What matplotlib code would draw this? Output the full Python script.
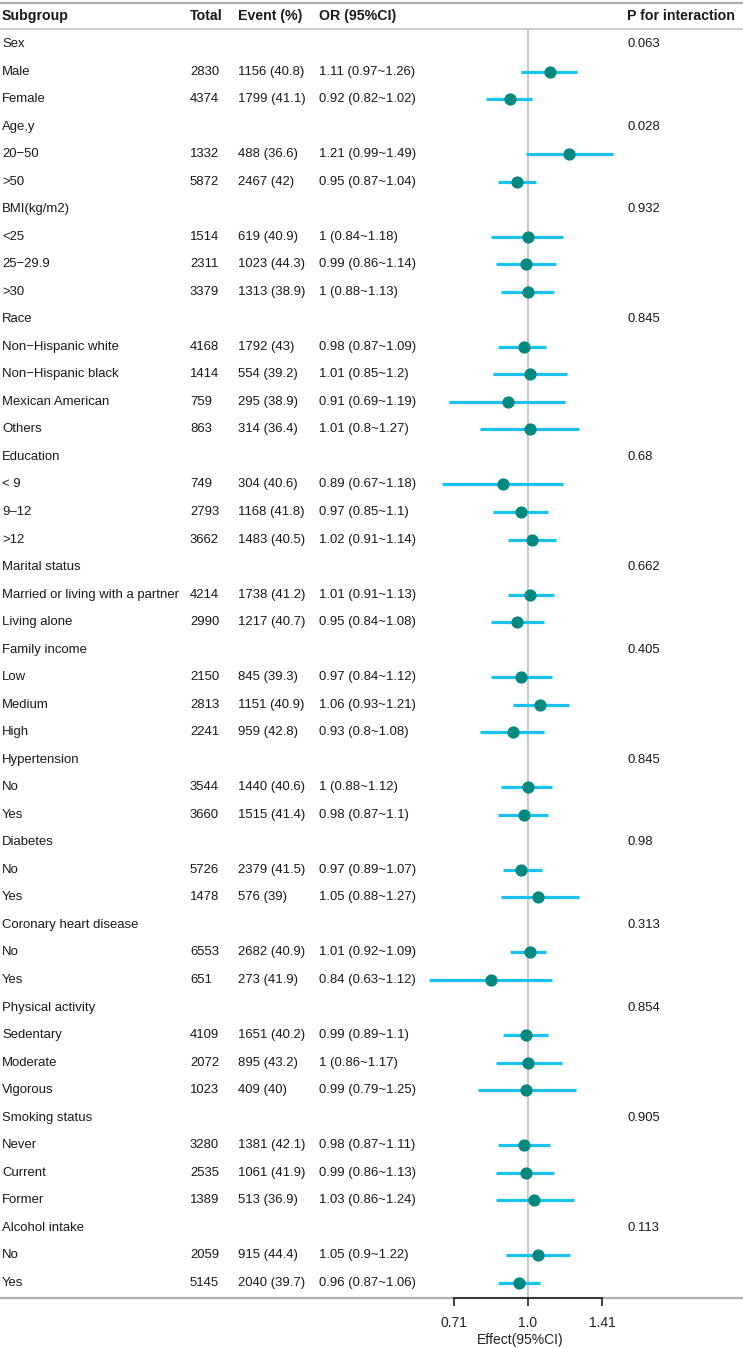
import numpy as np
import matplotlib.pyplot as plt
from matplotlib.ticker import FixedLocator, NullLocator

plt.rcParams['font.family'] = ['Liberation Sans', 'DejaVu Sans']

# ---- data (header rows have None for the numeric columns) ----
labels = ['Sex', 'Male', 'Female',
          'Age,y', '20\u221250', '>50',
          'BMI(kg/m2)', '<25', '25\u221229.9', '>30',
          'Race', 'Non\u2212Hispanic white', 'Non\u2212Hispanic black', 'Mexican American', 'Others',
          'Education', '< 9', '9\u201312', '>12',
          'Marital status', 'Married or living with a partner', 'Living alone',
          'Family income', 'Low', 'Medium', 'High',
          'Hypertension', 'No', 'Yes',
          'Diabetes', 'No', 'Yes',
          'Coronary heart disease', 'No', 'Yes',
          'Physical activity', 'Sedentary', 'Moderate', 'Vigorous',
          'Smoking status', 'Never', 'Current', 'Former',
          'Alcohol intake', 'No', 'Yes']
N = None
totals = [N, 2830, 4374, N, 1332, 5872, N, 1514, 2311, 3379,
          N, 4168, 1414, 759, 863, N, 749, 2793, 3662,
          N, 4214, 2990, N, 2150, 2813, 2241, N, 3544, 3660,
          N, 5726, 1478, N, 6553, 651, N, 4109, 2072, 1023,
          N, 3280, 2535, 1389, N, 2059, 5145]
events = [N, 1156, 1799, N, 488, 2467, N, 619, 1023, 1313,
          N, 1792, 554, 295, 314, N, 304, 1168, 1483,
          N, 1738, 1217, N, 845, 1151, 959, N, 1440, 1515,
          N, 2379, 576, N, 2682, 273, N, 1651, 895, 409,
          N, 1381, 1061, 513, N, 915, 2040]
pcts = [N, 40.8, 41.1, N, 36.6, 42, N, 40.9, 44.3, 38.9,
        N, 43, 39.2, 38.9, 36.4, N, 40.6, 41.8, 40.5,
        N, 41.2, 40.7, N, 39.3, 40.9, 42.8, N, 40.6, 41.4,
        N, 41.5, 39, N, 40.9, 41.9, N, 40.2, 43.2, 40,
        N, 42.1, 41.9, 36.9, N, 44.4, 39.7]
ors = [N, 1.11, 0.92, N, 1.21, 0.95, N, 1, 0.99, 1,
       N, 0.98, 1.01, 0.91, 1.01, N, 0.89, 0.97, 1.02,
       N, 1.01, 0.95, N, 0.97, 1.06, 0.93, N, 1, 0.98,
       N, 0.97, 1.05, N, 1.01, 0.84, N, 0.99, 1, 0.99,
       N, 0.98, 0.99, 1.03, N, 1.05, 0.96]
lows = [N, 0.97, 0.82, N, 0.99, 0.87, N, 0.84, 0.86, 0.88,
        N, 0.87, 0.85, 0.69, 0.8, N, 0.67, 0.85, 0.91,
        N, 0.91, 0.84, N, 0.84, 0.93, 0.8, N, 0.88, 0.87,
        N, 0.89, 0.88, N, 0.92, 0.63, N, 0.89, 0.86, 0.79,
        N, 0.87, 0.86, 0.86, N, 0.9, 0.87]
highs = [N, 1.26, 1.02, N, 1.49, 1.04, N, 1.18, 1.14, 1.13,
         N, 1.09, 1.2, 1.19, 1.27, N, 1.18, 1.1, 1.14,
         N, 1.13, 1.08, N, 1.12, 1.21, 1.08, N, 1.12, 1.1,
         N, 1.07, 1.27, N, 1.09, 1.12, N, 1.1, 1.17, 1.25,
         N, 1.11, 1.13, 1.24, N, 1.22, 1.06]
pvals = ['0.063', N, N, '0.028', N, N, '0.932', N, N, N,
         '0.845', N, N, N, N, '0.68', N, N, N,
         '0.662', N, N, '0.405', N, N, N, '0.845', N, N,
         '0.98', N, N, '0.313', N, N, '0.854', N, N, N,
         '0.905', N, N, N, '0.113', N, N]

headers = ['Subgroup', 'Total', 'Event (%)', 'OR (95%CI)', 'P for interaction']
xticks = [2 ** -0.5, 1.0, 2 ** 0.5]
xticklabels = ['0.71', '1.0', '1.41']

# ---- layout (pixels) ----
W, H = 743, 1348
col_x = [2, 190, 238, 319, 627]
row0, step = 44, 27.53
head_y = 16
line_top, line_head, line_bot = 2.5, 29, 1298
fx_left, fx_right, x_one, px_per_log2 = 400, 640, 528, 148

txt_col = '#1a1a1a'
ci_col = '#1ac3ef'
dot_col = '#00897f'
fs = 9.45


def fmt(v):
    return '{:g}'.format(v)


fig = plt.figure(figsize=(W / 100, H / 100), dpi=100)
bg = fig.add_axes([0, 0, 1, 1])
bg.set_xlim(0, W)
bg.set_ylim(H, 0)
bg.axis('off')

for y, c in [(line_top, '#b0b0b0'), (line_head, '#cfcfcf'), (line_bot, '#b0b0b0')]:
    bg.plot([0, W], [y, y], color=c, lw=1.6, solid_capstyle='butt')

for x, h in zip(col_x, headers):
    bg.text(x, head_y, h, fontsize=10.2, fontweight='bold', color=txt_col, va='center', ha='left')

for i, lab in enumerate(labels):
    y = row0 + step * i
    bg.text(col_x[0], y, lab, fontsize=fs, color=txt_col, va='center', ha='left')
    if totals[i] is not None:
        bg.text(col_x[1], y, str(totals[i]), fontsize=fs, color=txt_col, va='center')
        bg.text(col_x[2], y, '{} ({})'.format(events[i], fmt(pcts[i])), fontsize=fs, color=txt_col, va='center')
        bg.text(col_x[3], y, '{} ({}~{})'.format(fmt(ors[i]), fmt(lows[i]), fmt(highs[i])),
                fontsize=fs, color=txt_col, va='center')
    if pvals[i] is not None:
        bg.text(col_x[4], y, pvals[i], fontsize=fs, color=txt_col, va='center')

# ---- forest panel ----
ax = fig.add_axes([fx_left / W, 1 - line_bot / H, (fx_right - fx_left) / W, (line_bot - line_head) / H])
ax.patch.set_alpha(0)
ax.set_xscale('log', base=2)
ax.set_xlim(2 ** ((fx_left - x_one) / px_per_log2), 2 ** ((fx_right - x_one) / px_per_log2))
ax.set_ylim((line_bot - row0) / step, (line_head - row0) / step)
ax.axvline(1.0, color='#c0c0c0', lw=1.2, zorder=1)

for i in range(len(labels)):
    if ors[i] is None:
        continue
    ax.plot([lows[i], highs[i]], [i, i], color=ci_col, lw=2.3, solid_capstyle='butt', zorder=2)
    ax.plot(ors[i], i, 'o', color=dot_col, ms=7.8, mec=dot_col, zorder=3)

for s in ['top', 'left', 'right']:
    ax.spines[s].set_visible(False)
ax.spines['bottom'].set_bounds(xticks[0], xticks[-1])
ax.spines['bottom'].set_color('#222222')
ax.spines['bottom'].set_linewidth(1.2)
ax.xaxis.set_major_locator(FixedLocator(xticks))
ax.xaxis.set_minor_locator(NullLocator())
ax.set_xticklabels(xticklabels)
ax.tick_params(axis='x', length=5.5, width=1.2, color='#222222', labelsize=10,
               labelcolor='#222222', pad=7.5)
ax.set_yticks([])
ax.set_xlabel('Effect(95%CI)', fontsize=10, color='#222222', labelpad=2)

fig.savefig('out.png', dpi=100)
